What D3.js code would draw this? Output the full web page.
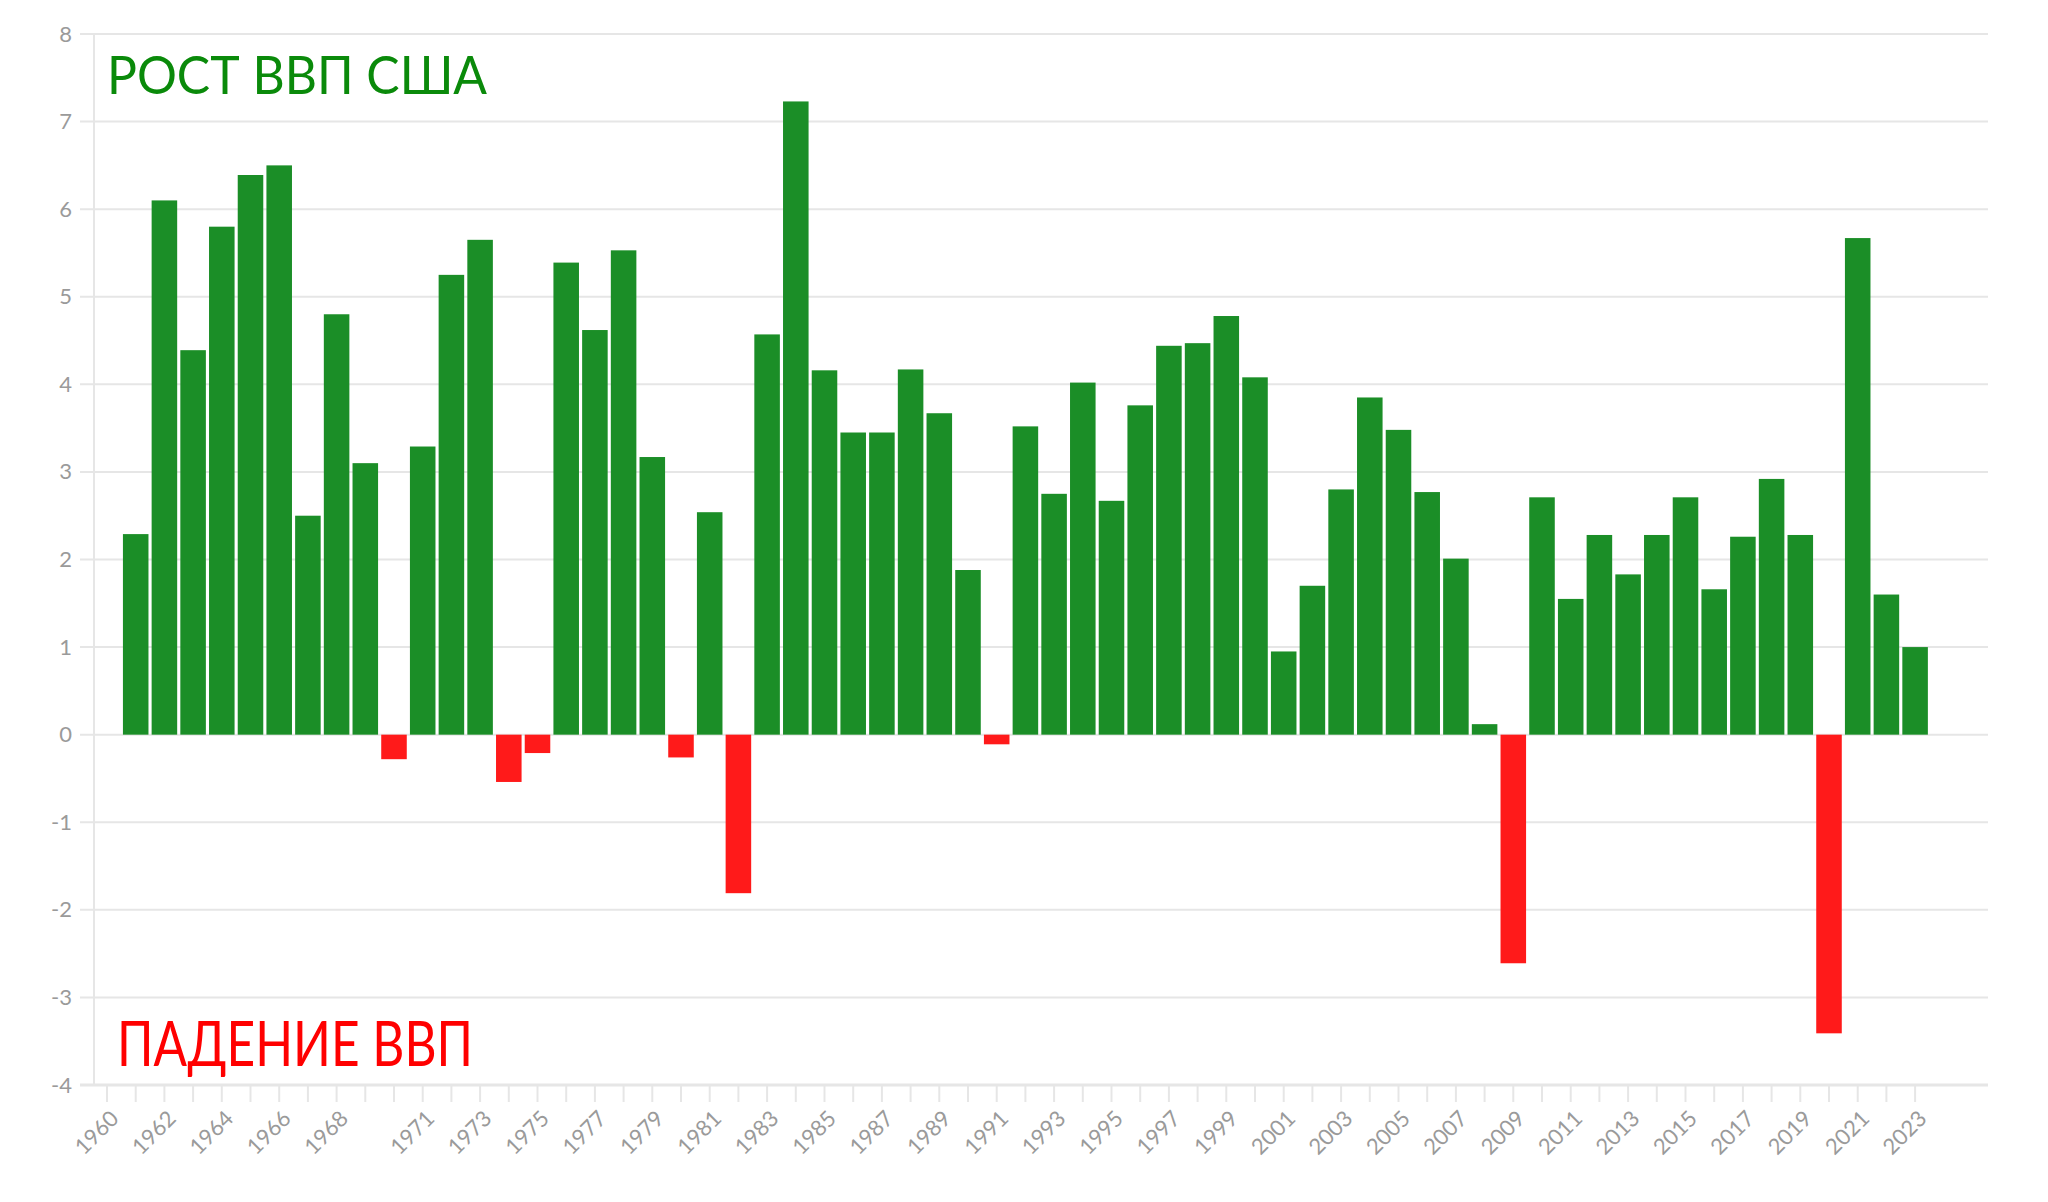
<!DOCTYPE html>
<html>
<head>
<meta charset="utf-8">
<script src="https://cdn.jsdelivr.net/npm/d3@7"></script>
<style>
  html, body { margin: 0; padding: 0; background: #ffffff; }
  svg { display: block; }
</style>
</head>
<body>
<svg id="chart" width="2048" height="1202"></svg>
<script>
// ---- data ----
const years = d3.range(1960, 2024).map(String);
const growth = [null, 2.29, 6.10, 4.39, 5.80, 6.39, 6.50, 2.50, 4.80, 3.10,
  -0.28, 3.29, 5.25, 5.65, -0.54, -0.21, 5.39, 4.62, 5.53, 3.17,
  -0.26, 2.54, -1.81, 4.57, 7.23, 4.16, 3.45, 3.45, 4.17, 3.67,
  1.88, -0.11, 3.52, 2.75, 4.02, 2.67, 3.76, 4.44, 4.47, 4.78,
  4.08, 0.95, 1.70, 2.80, 3.85, 3.48, 2.77, 2.01, 0.12, -2.61,
  2.71, 1.55, 2.28, 1.83, 2.28, 2.71, 1.66, 2.26, 2.92, 2.28,
  -3.41, 5.67, 1.60, 1.00];
const xTickLabels = ["1960","1962","1964","1966","1968","1971","1973","1975","1977","1979",
  "1981","1983","1985","1987","1989","1991","1993","1995","1997","1999","2001","2003",
  "2005","2007","2009","2011","2013","2015","2017","2019","2021","2023"];
const yTicks = d3.range(-4, 9, 1);
const titleGrowth = "РОСТ ВВП США";
const titleFall = "ПАДЕНИЕ ВВП";

// ---- layout ----
const svg = d3.select("#chart");
const plotLeft = 94, plotRight = 1988, plotTop = 34, plotBottom = 1085;
const step = 28.7;
const bandStart = 92.65;

const x = d3.scaleBand()
  .domain(years)
  .range([bandStart, bandStart + step * years.length])
  .paddingInner(0.11)
  .paddingOuter(0.055);

const y = d3.scaleLinear().domain([-4, 8]).range([plotBottom, plotTop]);

const gridColor = "#e6e6e6";
const textGray = "#9a9a9a";
const font = "Lato, 'Open Sans', sans-serif";

// gridlines
svg.append("g")
  .selectAll("line")
  .data(yTicks)
  .join("line")
  .attr("x1", 80).attr("x2", plotRight)
  .attr("y1", d => y(d)).attr("y2", d => y(d))
  .attr("stroke", gridColor)
  .attr("stroke-width", d => d === -4 ? 3 : 2);

// left axis line
svg.append("line")
  .attr("x1", plotLeft).attr("x2", plotLeft)
  .attr("y1", plotTop).attr("y2", plotBottom)
  .attr("stroke", gridColor).attr("stroke-width", 2);

// y axis labels
const yAxis = d3.axisLeft(y).tickValues(yTicks).tickSize(0).tickPadding(0).tickFormat(d => String(d));
const yg = svg.append("g").attr("transform", `translate(72,0)`).call(yAxis);
yg.select(".domain").remove();
yg.selectAll("text")
  .attr("fill", textGray)
  .style("font-family", font)
  .style("font-size", "22px");

// x axis ticks + labels
const xAxis = d3.axisBottom(x).tickSize(16).tickPadding(0)
  .tickFormat(d => xTickLabels.includes(d) ? d : "");
const xg = svg.append("g").attr("transform", `translate(0,${plotBottom + 1})`).call(xAxis);
xg.select(".domain").remove();
xg.selectAll(".tick line").attr("stroke", gridColor).attr("stroke-width", 2);
xg.selectAll(".tick text")
  .attr("fill", textGray)
  .style("font-family", font)
  .style("font-size", "22px")
  .attr("text-anchor", "end")
  .attr("y", 0)
  .attr("dy", 0)
  .attr("transform", "translate(13,34) rotate(-45)");

// bars
const barData = years.map((yr, i) => ({ year: yr, value: growth[i] })).filter(d => d.value !== null);
svg.append("g")
  .selectAll("rect")
  .data(barData)
  .join("rect")
  .attr("x", d => x(d.year))
  .attr("width", x.bandwidth())
  .attr("y", d => y(Math.max(0, d.value)))
  .attr("height", d => Math.abs(y(d.value) - y(0)))
  .attr("fill", d => d.value >= 0 ? "#1b8e27" : "#ff1a1a");

// titles
svg.append("text")
  .attr("x", 107).attr("y", 94)
  .attr("fill", "#0a8a0a")
  .style("font-family", font)
  .style("font-size", "53px")
  .attr("textLength", 380)
  .attr("lengthAdjust", "spacingAndGlyphs")
  .text(titleGrowth);
svg.append("text")
  .attr("x", 117).attr("y", 1066)
  .attr("fill", "#ff0000")
  .style("font-family", font)
  .style("font-size", "61px")
  .attr("textLength", 356)
  .attr("lengthAdjust", "spacingAndGlyphs")
  .text(titleFall);
</script>
</body>
</html>
